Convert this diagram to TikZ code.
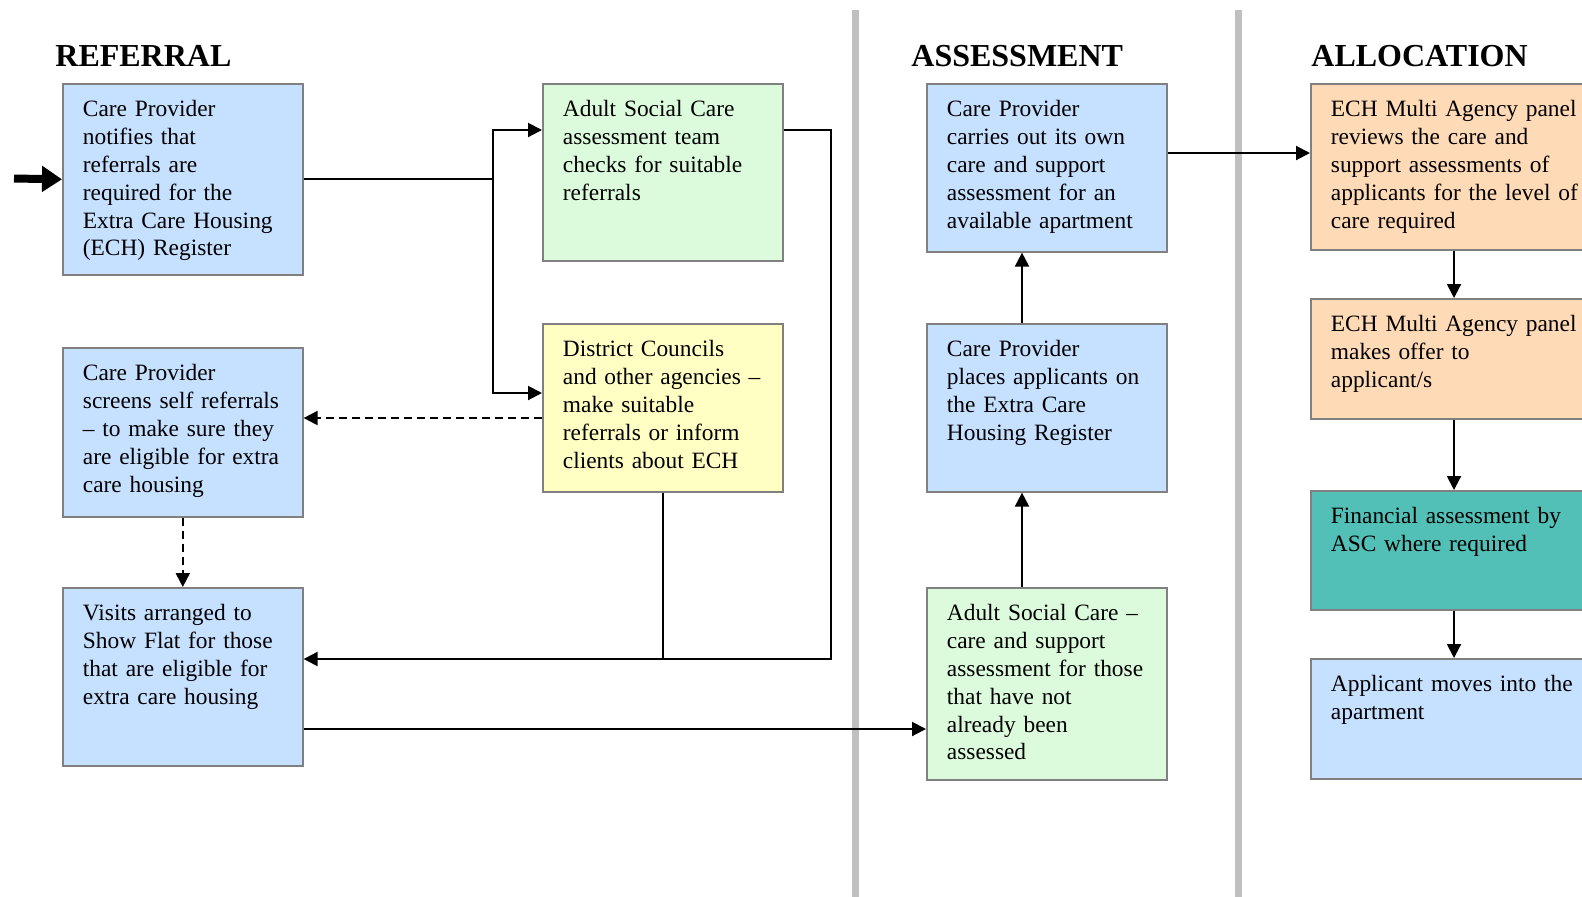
\documentclass[tikz,border=0pt]{standalone}
\usepackage{fontspec}
\setmainfont{Liberation Serif}
\usetikzlibrary{arrows.meta}
\definecolor{cblue}{RGB}{198,224,255}
\definecolor{cgreen}{RGB}{220,251,220}
\definecolor{cyellow}{RGB}{255,255,196}
\definecolor{corange}{RGB}{255,218,182}
\definecolor{cteal}{RGB}{82,192,182}
\definecolor{cborder}{RGB}{128,128,128}
\definecolor{cdivider}{RGB}{192,192,192}
\tikzset{
  x=0.5pt, y=-0.5pt,
  box/.style={draw=cborder, line width=0.8pt, inner sep=0pt, anchor=north west, minimum width=120pt},
  wbox/.style={box, minimum width=150pt},
  btext/.style={anchor=north west, inner sep=0pt, align=left, text width=150pt,
    font=\fontsize{11.7}{13.95}\selectfont, xshift=10.25pt, yshift=-6.75pt},
  title/.style={anchor=base west, inner sep=0pt, font=\fontsize{16}{19}\selectfont\bfseries},
  arr/.style={line width=1pt, -{Triangle[length=7pt,width=7pt]}},
  plain/.style={line width=1pt},
  darr/.style={arr, dash pattern=on 4pt off 2.5pt},
  bigarr/.style={line width=4pt, -{Triangle[length=10pt,width=12.5pt]}},
  divider/.style={draw=cdivider, line width=3.5pt}
}
\begin{document}
\begin{tikzpicture}
\useasboundingbox (0,0) rectangle (1582,896);
\clip (0,0) rectangle (1582,896);
\fill[white] (0,0) rectangle (1582,896);

% dividers
\draw[divider] (855,10) -- (855,900);
\draw[divider] (1238,10) -- (1238,900);

% titles
\node[title] (tref) at (55,66) {REFERRAL};
\node[title] (tass) at (911,66) {ASSESSMENT};
\node[title] (tall) at (1311,66) {ALLOCATION};

% boxes
\node[box, fill=cblue, minimum height=95.5pt] (b1) at (62,83) {};
\node[btext] (b1t) at (b1.north west) {\strut Care Provider\\notifies that\\referrals are\\required for the\\Extra Care Housing\\(ECH) Register};

\node[box, fill=cgreen, minimum height=88.5pt] (asc) at (542,83) {};
\node[btext] (asct) at (asc.north west) {\strut Adult Social Care\\assessment team\\checks for suitable\\referrals};

\node[box, fill=cyellow, minimum height=84pt] (dc) at (542,323) {};
\node[btext] (dct) at (dc.north west) {\strut District Councils\\and other agencies --\\make suitable\\referrals or inform\\clients about ECH};

\node[box, fill=cblue, minimum height=84.5pt] (scr) at (62,347) {};
\node[btext] (scrt) at (scr.north west) {\strut Care Provider\\screens self referrals\\-- to make sure they\\are eligible for extra\\care housing};

\node[box, fill=cblue, minimum height=89pt] (vis) at (62,587) {};
\node[btext] (vist) at (vis.north west) {\strut Visits arranged to\\Show Flat for those\\that are eligible for\\extra care housing};

\node[box, fill=cblue, minimum height=84pt] (cpc) at (926,83) {};
\node[btext] (cpct) at (cpc.north west) {\strut Care Provider\\carries out its own\\care and support\\assessment for an\\available apartment};

\node[box, fill=cblue, minimum height=84pt] (cpp) at (926,323) {};
\node[btext] (cppt) at (cpp.north west) {\strut Care Provider\\places applicants on\\the Extra Care\\Housing Register};

\node[box, fill=cgreen, minimum height=96pt] (ascc) at (926,587) {};
\node[btext] (ascct) at (ascc.north west) {\strut Adult Social Care --\\care and support\\assessment for those\\that have not\\already been\\assessed};

\node[wbox, fill=corange, minimum height=83pt] (ech1) at (1310,83) {};
\node[btext] (ech1t) at (ech1.north west) {\strut ECH Multi Agency panel\\reviews the care and\\support assessments of\\applicants for the level of\\care required};

\node[wbox, fill=corange, minimum height=60pt] (ech2) at (1310,298) {};
\node[btext] (ech2t) at (ech2.north west) {\strut ECH Multi Agency panel\\makes offer to\\applicant/s};

\node[wbox, fill=cteal, minimum height=59.5pt] (fin) at (1310,490) {};
\node[btext] (fint) at (fin.north west) {\strut Financial assessment by\\ASC where required};

\node[wbox, fill=cblue, minimum height=60pt] (app) at (1310,658) {};
\node[btext] (appt) at (app.north west) {\strut Applicant moves into the\\apartment};

% helper coordinates
\coordinate (start) at (14,178.5);
\coordinate (j1) at (493,130);
\coordinate (j2) at (493,393);
\coordinate (r1) at (831,130);
\coordinate (r2) at (831,659);
\coordinate (d1) at (0,418);
\coordinate (v1) at (0,729);
\coordinate (c1) at (1022,0);
\coordinate (e1) at (0,153);
\coordinate (k1) at (1454,0);

% connectors
\draw[bigarr] (start) -- (b1.west);
\draw[plain] (b1.east) -- (b1.east -| j1);
\draw[arr] (b1.east -| j1) |- (asc.west |- j1);
\draw[arr] (b1.east -| j1) |- (dc.west |- j2);
\draw[arr] (asc.east |- r1) -- (r1) -- (r2) -- (vis.east |- r2);
\draw[plain] (dc.south) -- (dc.south |- r2);
\draw[darr] (dc.west |- d1) -- (scr.east |- d1);
\draw[darr] (scr.south) -- (vis.north);
\draw[arr] (vis.east |- v1) -- (ascc.west |- v1);
\draw[arr] (ascc.north -| c1) -- (cpp.south -| c1);
\draw[arr] (cpp.north -| c1) -- (cpc.south -| c1);
\draw[arr] (cpc.east |- e1) -- (ech1.west |- e1);
\draw[arr] (ech1.south -| k1) -- (ech2.north -| k1);
\draw[arr] (ech2.south -| k1) -- (fin.north -| k1);
\draw[arr] (fin.south -| k1) -- (app.north -| k1);
\end{tikzpicture}
\end{document}
